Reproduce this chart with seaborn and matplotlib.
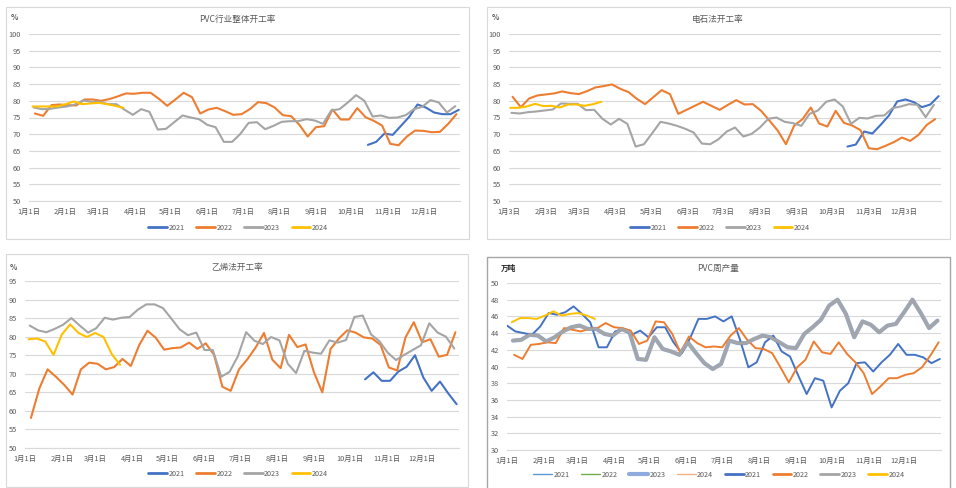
import numpy as np
import pandas as pd
import matplotlib
matplotlib.use("Agg")
import matplotlib.pyplot as plt
import matplotlib.dates as mdates
from matplotlib.patches import Rectangle
from matplotlib.lines import Line2D
import seaborn as sns

# ---------------- data (weekly values, plotted on a common Jan-Dec axis) ----------------
years = ["2021", "2022", "2023", "2024"]
colors = {"2021": "#4472C4", "2022": "#ED7D31", "2023": "#A5A5A5", "2024": "#FFC000"}

# Panel 1: PVC行业整体开工率 (%)
p1_start = {"2021": "2021-10-15", "2022": "2021-01-06", "2023": "2021-01-05", "2024": "2021-01-04"}
p1_2021 = [66.8, 67.7, 70.2, 69.8, 72.5, 75.2, 78.9, 78.0, 76.5, 76.0, 76.0, 77.3]
p1_2022 = [76.2, 75.5, 78.7, 78.9, 78.7, 78.6, 80.4, 80.4, 80.0, 80.5,
           81.3, 82.2, 82.1, 82.4, 82.4, 80.6, 78.5, 80.4, 82.4, 81.1,
           76.2, 77.4, 77.9, 76.9, 75.8, 76.0, 77.5, 79.6, 79.3, 78.0,
           75.7, 75.4, 72.8, 69.3, 72.1, 72.4, 77.4, 74.4, 74.4, 77.8,
           75.1, 74.0, 72.6, 67.1, 66.7, 69.3, 71.1, 71.0, 70.6, 70.7,
           73.1, 76.0]
p1_2023 = [78.0, 77.5, 77.6, 78.0, 78.3, 78.9, 80.1, 79.7, 79.7, 79.0,
           79.0, 77.3, 75.8, 77.5, 76.7, 71.4, 71.6, 73.6, 75.6, 75.0,
           74.5, 72.8, 72.1, 67.7, 67.7, 70.1, 73.4, 73.6, 71.5, 72.5,
           73.7, 73.9, 73.9, 74.5, 74.1, 73.1, 77.1, 77.5, 79.5, 81.7,
           80.0, 75.3, 75.6, 74.9, 75.0, 75.7, 77.5, 78.2, 80.2, 79.5,
           76.5, 78.4]
p1_2024 = [78.3, 78.3, 78.3, 78.3, 79.0, 79.8, 79.0, 79.2, 79.4, 79.0, 78.5, 77.9]

# Panel 2: 电石法开工率 (%)
p2_start = {"2021": "2021-10-14", "2022": "2021-01-04", "2023": "2021-01-03", "2024": "2021-01-02"}
p2_2021 = [66.3, 66.9, 70.8, 70.2, 72.8, 75.6, 79.8, 80.4, 79.6, 78.1, 78.9, 81.4]
p2_2022 = [81.2, 78.1, 80.7, 81.6, 81.9, 82.2, 82.8, 82.3, 82.0, 82.9,
           84.0, 84.4, 84.9, 83.6, 82.6, 80.6, 79.0, 81.1, 83.2, 82.0,
           76.1, 77.3, 78.5, 79.7, 78.5, 77.3, 78.8, 80.2, 78.9, 79.0,
           77.0, 74.1, 71.1, 67.0, 72.6, 74.5, 78.0, 73.2, 72.3, 77.0,
           73.4, 72.6, 71.2, 65.8, 65.5, 66.5, 67.6, 69.0, 68.0, 69.8,
           72.8, 74.5]
p2_2023 = [76.4, 76.2, 76.6, 76.8, 77.1, 77.4, 79.2, 79.1, 79.1, 77.2,
           77.3, 74.6, 72.9, 74.6, 73.1, 66.3, 67.0, 70.3, 73.7, 73.2,
           72.5, 71.6, 70.5, 67.2, 67.0, 68.5, 70.8, 72.0, 69.3, 70.1,
           72.0, 74.6, 75.0, 73.7, 73.3, 72.5, 76.1, 77.1, 79.7, 80.4,
           78.3, 73.1, 74.9, 74.7, 75.5, 75.6, 77.8, 78.3, 79.0, 78.8,
           75.1, 78.8]
p2_2024 = [77.9, 77.9, 78.3, 79.1, 78.4, 78.5, 78.0, 78.9, 78.9, 78.5, 79.0, 79.7]

# Panel 3: 乙烯法开工率 (%)
p3_start = {"2021": "2021-10-14", "2022": "2021-01-06", "2023": "2021-01-05", "2024": "2021-01-04"}
p3_2021 = [68.5, 70.4, 68.1, 68.1, 70.6, 71.9, 75.0, 69.0, 65.4, 67.9, 64.7, 61.8]
p3_2022 = [58.1, 66.0, 71.2, 69.2, 67.0, 64.4, 71.2, 73.0, 72.7, 71.2,
           71.8, 74.0, 72.1, 77.7, 81.6, 79.7, 76.5, 76.9, 77.1, 78.4,
           76.7, 78.2, 75.1, 66.5, 65.4, 71.2, 73.9, 77.1, 81.0, 73.8,
           71.5, 80.5, 77.2, 77.9, 70.4, 65.0, 76.7, 79.5, 81.7, 81.1,
           79.8, 79.5, 77.8, 71.7, 70.9, 79.8, 83.9, 78.5, 79.3, 74.6,
           75.1, 81.2]
p3_2023 = [83.0, 81.7, 81.2, 82.1, 83.2, 85.0, 83.0, 81.1, 82.3, 85.1,
           84.6, 85.1, 85.3, 87.3, 88.7, 88.7, 87.7, 84.9, 82.0, 80.4,
           81.1, 76.4, 76.4, 69.2, 70.5, 74.7, 81.2, 78.9, 78.0, 79.9,
           79.0, 72.7, 70.2, 76.2, 75.7, 75.4, 79.0, 78.4, 79.1, 85.3,
           85.7, 80.6, 78.8, 75.7, 73.7, 75.1, 76.4, 77.7, 83.6, 81.1,
           80.0, 76.8]
p3_2024 = [79.3, 79.5, 78.7, 75.1, 80.6, 83.3, 81.0, 79.9, 81.0, 79.9, 75.3, 72.4]

# Panel 4: PVC周产量 (万吨)
p4_start = {"2021": "2021-01-01", "2022": "2021-01-07", "2023": "2021-01-06", "2024": "2021-01-05"}
p4_2021 = [44.9, 44.2, 44.0, 43.8, 44.8, 46.4, 46.2, 46.5, 47.2, 46.3,
           45.3, 42.3, 42.3, 44.2, 44.4, 43.8, 44.3, 43.5, 44.7, 44.7,
           42.9, 41.6, 43.4, 45.7, 45.7, 46.0, 45.4, 46.0, 43.2, 39.9,
           40.5, 42.9, 43.7, 41.8, 41.2, 38.9, 36.7, 38.6, 38.3, 35.1,
           37.1, 38.0, 40.4, 40.5, 39.4, 40.5, 41.4, 42.7, 41.4, 41.4,
           41.1, 40.4, 40.9]
p4_2022 = [41.4, 40.9, 42.6, 42.7, 42.9, 42.8, 44.6, 44.4, 44.2, 44.5,
           44.6, 45.2, 44.7, 44.6, 44.3, 42.7, 43.1, 45.4, 45.3, 43.9,
           41.6, 43.6, 42.8, 42.3, 42.4, 42.3, 43.7, 44.6, 43.2, 42.2,
           42.1, 41.6, 39.9, 38.1, 39.9, 40.8, 43.0, 41.7, 41.5, 42.9,
           41.5, 40.5, 39.2, 36.7, 37.6, 38.6, 38.6, 39.0, 39.2, 39.9,
           41.3, 42.9]
p4_2023 = [43.1, 43.2, 43.8, 43.7, 43.0, 43.5, 44.2, 44.7, 44.9, 44.5,
           44.5, 43.9, 43.7, 44.5, 44.1, 40.9, 40.8, 43.5, 42.1, 41.8,
           41.4, 42.9, 41.6, 40.4, 39.7, 40.3, 43.1, 42.8, 42.8, 43.3,
           43.7, 43.5, 42.9, 42.3, 42.2, 43.9, 44.7, 45.6, 47.3, 48.0,
           46.3, 43.5, 45.4, 45.0, 44.1, 44.9, 45.1, 46.5, 48.0, 46.4,
           44.6, 45.5]
p4_2024 = [45.3, 45.8, 45.8, 45.7, 46.1, 46.6, 46.1, 46.3, 46.4, 46.1, 45.7]

titles = ["PVC行业整体开工率", "电石法开工率", "乙烯法开工率", "PVC周产量"]
units = ["%", "%", "%", "万吨"]
months = list(range(1, 13))
tick_day = [1, 3, 1, 1]

# ---------------- figure ----------------
sns.set_theme(style="white")
plt.rcParams["font.family"] = ["Noto Sans CJK SC", "DejaVu Sans"]
W, H = 956, 488
fig = plt.figure(figsize=(W / 100, H / 100), dpi=100)
fig.patch.set_facecolor("white")
TXT = "#595959"
GRID = "#D9D9D9"


def px_axes(l, t, r, b):
    return fig.add_axes([l / W, 1 - b / H, (r - l) / W, (b - t) / H])


def frame(l, t, r, b, ec, lw):
    fig.add_artist(Rectangle((l / W, 1 - b / H), (r - l) / W, (b - t) / H,
                             transform=fig.transFigure, fill=False, ec=ec, lw=lw))


def long_df(starts, series):
    rows = []
    for y in years:
        vals = series[y]
        dates = pd.date_range(starts[y], periods=len(vals), freq="7D")
        rows.append(pd.DataFrame({"date": dates, "value": vals, "year": y}))
    return pd.concat(rows, ignore_index=True)


panels = [
    dict(box=(6, 7, 469, 239), ax=(29, 34, 460, 201), ylim=(50, 100), step=5,
         starts=p1_start, data={"2021": p1_2021, "2022": p1_2022, "2023": p1_2023, "2024": p1_2024},
         title=(237, 19), unit=(14, 18), leg=(238, 228)),
    dict(box=(487, 7, 950, 239), ax=(509, 34, 941, 201), ylim=(50, 100), step=5,
         starts=p2_start, data={"2021": p2_2021, "2022": p2_2022, "2023": p2_2023, "2024": p2_2024},
         title=(718, 19), unit=(495, 18), leg=(720, 228)),
    dict(box=(6, 254, 468, 487), ax=(25, 281, 459, 448), ylim=(50, 95), step=5,
         starts=p3_start, data={"2021": p3_2021, "2022": p3_2022, "2023": p3_2023, "2024": p3_2024},
         title=(237, 267), unit=(13, 267), leg=(238, 474)),
    dict(box=(487, 257, 950, 492), ax=(507, 283, 941, 450), ylim=(30, 50), step=2,
         starts=p4_start, data={"2021": p4_2021, "2022": p4_2022, "2023": p4_2023, "2024": p4_2024},
         title=(718, 268), unit=(501, 268), leg=(719, 475)),
]

x0 = pd.Timestamp("2021-01-01")
x1 = pd.Timestamp("2022-01-01")

for i, p in enumerate(panels):
    frame(*p["box"], ec="#A6A6A6" if i == 3 else GRID, lw=1.0 if i == 3 else 0.8)
    ax = px_axes(*p["ax"])
    ax.set_facecolor("white")
    df = long_df(p["starts"], p["data"])

    if i == 3:
        d23 = df[df["year"] == "2023"]
        sns.lineplot(data=d23, x="date", y="value", color="#8FAADC", lw=3.0,
                     ax=ax, legend=False, zorder=2)
    sns.lineplot(data=df, x="date", y="value", hue="year", hue_order=years,
                 palette=colors, lw=1.5 if i < 3 else 1.4, ax=ax, legend=False, zorder=3)
    if i == 3:
        # thicker grey line for 2023
        for ln in ax.get_lines()[-2:-1]:
            pass
        for ln in ax.get_lines():
            if ln.get_color() in ("#A5A5A5", "#a5a5a5"):
                ln.set_linewidth(2.2)

    ax.set_xlim(x0, x1)
    lo, hi = p["ylim"]
    ax.set_ylim(lo, hi)
    ax.set_yticks(np.arange(lo, hi + 0.01, p["step"]))
    ax.yaxis.set_major_formatter(matplotlib.ticker.FormatStrFormatter("%d"))
    tick_dates = [pd.Timestamp(2021, m, 1) for m in months]
    ax.set_xticks(tick_dates)
    ax.set_xticklabels([f"{m}月{tick_day[i]}日" for m in months])
    ax.set_xlabel("")
    ax.set_ylabel("")
    ax.grid(axis="y", color=GRID, lw=0.8)
    ax.grid(axis="x", visible=False)
    ax.set_axisbelow(True)
    for s in ["top", "right", "left"]:
        ax.spines[s].set_visible(False)
    ax.spines["bottom"].set_color(GRID)
    ax.spines["bottom"].set_linewidth(0.8)
    ax.tick_params(axis="x", direction="out", length=3, width=0.8, color=GRID,
                   labelsize=5.3, labelcolor=TXT, pad=2)
    ax.tick_params(axis="y", length=0, labelsize=5.3, labelcolor=TXT, pad=6)

    fig.text(p["title"][0] / W, 1 - p["title"][1] / H, titles[i], ha="center", va="center",
             fontsize=6.2, color=TXT)
    fig.text(p["unit"][0] / W, 1 - p["unit"][1] / H, units[i], ha="left" if i == 3 else "center",
             va="center", fontsize=5.5, color="#262626" if i == 3 else TXT,
             fontweight="bold")

    handles, labels = [], []
    if i == 3:
        extra = [("#5B9BD5", 1.0), ("#70AD47", 1.0), ("#8FAADC", 3.0), ("#F4B183", 1.0)]
        for (c, w), y in zip(extra, years):
            handles.append(Line2D([], [], color=c, lw=w))
            labels.append(y)
    for y in years:
        handles.append(Line2D([], [], color=colors[y], lw=2.0))
        labels.append(y)
    ax.legend(handles, labels, loc="center", bbox_to_anchor=(p["leg"][0] / W, 1 - p["leg"][1] / H),
              bbox_transform=fig.transFigure, ncol=len(labels), frameon=False,
              fontsize=5.2, handlelength=2.6, handletextpad=0.2, columnspacing=1.6,
              labelcolor=TXT)

fig.savefig("out.png", dpi=100, facecolor="white")
